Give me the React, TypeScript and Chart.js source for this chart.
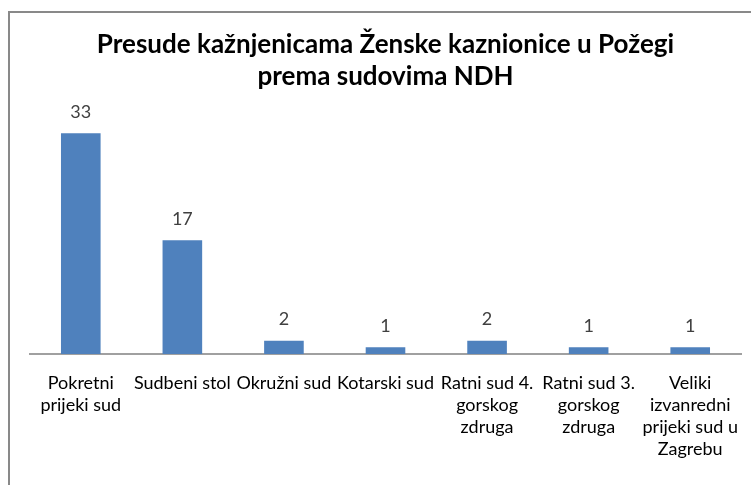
import React, { useEffect, useRef } from "react";
import { Chart, registerables } from "chart.js";

Chart.register(...registerables);

const titleLines = ["Presude kažnjenicama Ženske kaznionice u Požegi", "prema sudovima NDH"];
const categories: string[][] = [
  ["Pokretni", "prijeki sud"],
  ["Sudbeni stol"],
  ["Okružni sud"],
  ["Kotarski sud"],
  ["Ratni sud 4.", "gorskog", "zdruga"],
  ["Ratni sud 3.", "gorskog", "zdruga"],
  ["Veliki", "izvanredni", "prijeki sud u", "Zagrebu"],
];
const values = [33, 17, 2, 1, 2, 1, 1];

const FONT = "Lato, 'Open Sans', sans-serif";

const borderPlugin = {
  id: "frameBorder",
  beforeDraw(chart: any) {
    const ctx = chart.ctx;
    ctx.save();
    ctx.fillStyle = "#ffffff";
    ctx.fillRect(0, 0, chart.width, chart.height);
    ctx.strokeStyle = "#898989";
    ctx.lineWidth = 2;
    ctx.strokeRect(9, 12, chart.width + 20, chart.height + 20);
    ctx.restore();
  },
};

const valueLabelPlugin = {
  id: "valueLabels",
  afterDatasetsDraw(chart: any) {
    const ctx = chart.ctx;
    const meta = chart.getDatasetMeta(0);
    ctx.save();
    ctx.fillStyle = "#404040";
    ctx.font = `18px ${FONT}`;
    ctx.textAlign = "center";
    ctx.textBaseline = "middle";
    meta.data.forEach((bar: any, i: number) => {
      ctx.fillText(String(chart.data.datasets[0].data[i]), bar.x, bar.y - 21);
    });
    ctx.restore();
  },
};

export default function App() {
  const ref = useRef<HTMLCanvasElement | null>(null);
  useEffect(() => {
    if (!ref.current) return;
    const chart = new Chart(ref.current, {
      type: "bar",
      data: {
        labels: categories,
        datasets: [
          {
            data: values,
            backgroundColor: "#4F81BD",
            borderWidth: 0,
            categoryPercentage: 1,
            barPercentage: 0.39,
          },
        ],
      },
      options: {
        animation: false,
        responsive: false,
        maintainAspectRatio: false,
        layout: { padding: { left: 30, right: 10, top: 29, bottom: 7 } },
        plugins: {
          legend: { display: false },
          tooltip: { enabled: false },
          title: {
            display: true,
            text: titleLines,
            color: "#000000",
            font: { family: FONT, size: 26, weight: "bold", lineHeight: 1.23 },
            padding: { top: 0, bottom: 27 },
          },
        },
        scales: {
          x: {
            grid: { display: false, drawTicks: false },
            border: { display: true, color: "#A0A0A0", width: 2 },
            ticks: {
              color: "#000000",
              font: { family: FONT, size: 18, lineHeight: 1.222 },
              maxRotation: 0,
              minRotation: 0,
              autoSkip: false,
              padding: 18,
            },
            afterFit: (scale: any) => {
              scale.paddingLeft = 0;
              scale.paddingRight = 0;
            },
          },
          y: {
            display: false,
            min: 0,
            max: 35,
          },
        },
      },
      plugins: [borderPlugin, valueLabelPlugin],
    });
    return () => chart.destroy();
  }, []);
  return (
    <div style={{ position: "fixed", left: 0, top: 0, width: 751, height: 485 }}>
      <canvas ref={ref} width={751} height={485} style={{ display: "block", width: 751, height: 485 }} />
    </div>
  );
}
